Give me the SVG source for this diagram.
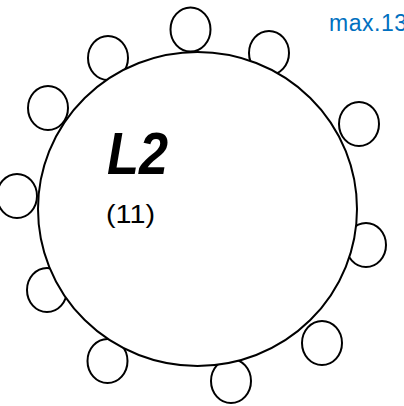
<svg xmlns="http://www.w3.org/2000/svg" width="404" height="406" viewBox="0 0 404 406">
<style>
.seat{fill:#fff;stroke:#000;stroke-width:2}
.table{fill:#fff;stroke:#000;stroke-width:2}
.lbl{font-family:"Liberation Sans",Arial,sans-serif;fill:#000}
</style>
<rect width="404" height="406" fill="#fff"/>
<g id="seats">
<ellipse id="seat1" class="seat" cx="190.5" cy="29.5" rx="20" ry="22"/>
<ellipse id="seat2" class="seat" cx="108" cy="58" rx="20" ry="22"/>
<ellipse id="seat3" class="seat" cx="48" cy="108" rx="20" ry="22"/>
<ellipse id="seat4" class="seat" cx="17" cy="196" rx="20" ry="22"/>
<ellipse id="seat5" class="seat" cx="47" cy="290" rx="20" ry="22"/>
<ellipse id="seat6" class="seat" cx="107.5" cy="361" rx="20" ry="22"/>
<ellipse id="seat7" class="seat" cx="231" cy="381" rx="20" ry="22"/>
<ellipse id="seat8" class="seat" cx="322" cy="343" rx="20" ry="22"/>
<ellipse id="seat9" class="seat" cx="366" cy="245" rx="20" ry="22"/>
<ellipse id="seat10" class="seat" cx="359" cy="124" rx="20" ry="22"/>
<ellipse id="seat11" class="seat" cx="269" cy="53" rx="20" ry="22"/>
</g>
<g id="table">
<ellipse class="table" cx="197.5" cy="209" rx="159.5" ry="157"/>
<text class="lbl" x="107" y="174" font-size="60" font-weight="bold" font-style="italic" textLength="61" lengthAdjust="spacingAndGlyphs">L2</text>
<text class="lbl" x="106" y="223" font-size="26" textLength="49" lengthAdjust="spacingAndGlyphs">(11)</text>
</g>
<g id="capacity">
<text x="329" y="31" font-family="'Liberation Sans',Arial,sans-serif" font-size="23" fill="#0070C0" textLength="78" lengthAdjust="spacing">max.13</text>
</g>
</svg>
